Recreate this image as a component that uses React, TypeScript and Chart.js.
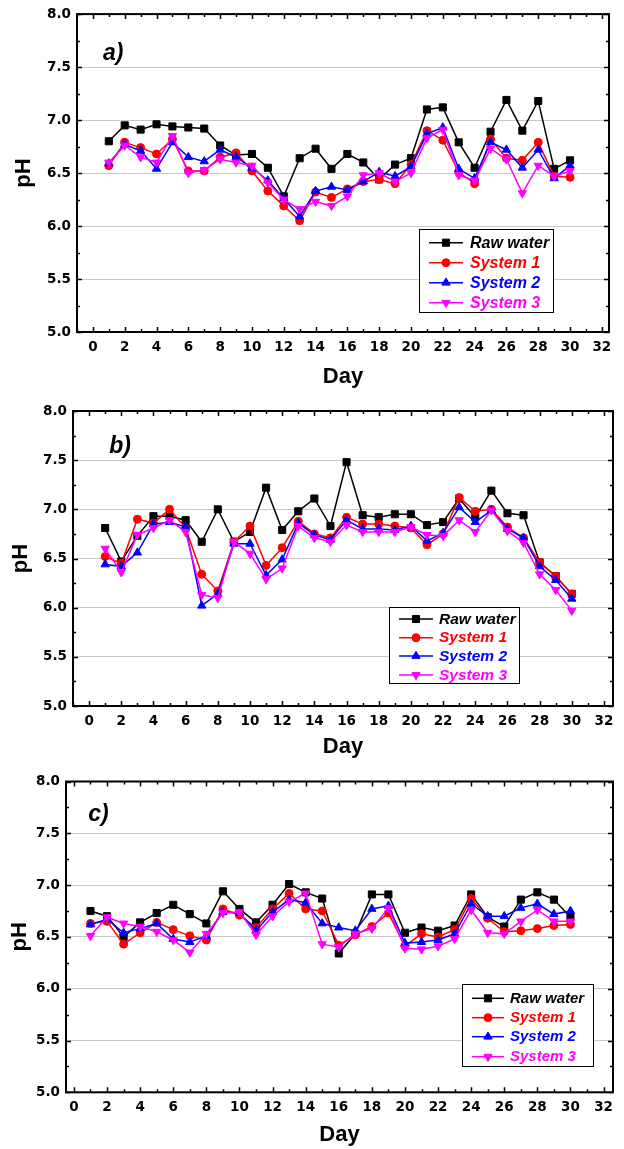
import React, { useEffect, useRef } from 'react';
import { Chart, registerables } from 'chart.js';

Chart.register(...registerables);

// ---------- data ----------
const days = [1, 2, 3, 4, 5, 6, 7, 8, 9, 10, 11, 12, 13, 14, 15, 16, 17, 18, 19, 20, 21, 22, 23, 24, 25, 26, 27, 28, 29, 30];
const seriesNames = ['Raw water', 'System 1', 'System 2', 'System 3'];
const yTickValues = [5.0, 5.5, 6.0, 6.5, 7.0, 7.5, 8.0];
const xTickValues = [0, 2, 4, 6, 8, 10, 12, 14, 16, 18, 20, 22, 24, 26, 28, 30, 32];
const panelLabels = ['a)', 'b)', 'c)'];

const rawA = [6.80, 6.95, 6.91, 6.96, 6.94, 6.93, 6.92, 6.76, 6.67, 6.68, 6.55, 6.28, 6.64, 6.73, 6.54, 6.68, 6.60, 6.44, 6.58, 6.64, 7.10, 7.12, 6.79, 6.55, 6.89, 7.19, 6.90, 7.18, 6.54, 6.62];
const sys1A = [6.57, 6.79, 6.74, 6.68, 6.82, 6.52, 6.52, 6.65, 6.69, 6.52, 6.33, 6.19, 6.05, 6.32, 6.27, 6.35, 6.42, 6.44, 6.40, 6.58, 6.90, 6.81, 6.51, 6.40, 6.82, 6.64, 6.62, 6.79, 6.47, 6.46];
const sys2A = [6.59, 6.77, 6.71, 6.54, 6.79, 6.65, 6.61, 6.72, 6.65, 6.55, 6.43, 6.26, 6.09, 6.33, 6.37, 6.34, 6.42, 6.51, 6.47, 6.56, 6.87, 6.93, 6.54, 6.45, 6.79, 6.72, 6.55, 6.72, 6.45, 6.57];
const sys3A = [6.60, 6.76, 6.65, 6.60, 6.85, 6.50, 6.53, 6.63, 6.60, 6.57, 6.41, 6.25, 6.16, 6.23, 6.19, 6.28, 6.48, 6.50, 6.42, 6.50, 6.83, 6.91, 6.48, 6.43, 6.73, 6.63, 6.31, 6.57, 6.47, 6.52];

const rawB = [6.81, 6.47, 6.73, 6.93, 6.93, 6.89, 6.67, 7.00, 6.67, 6.77, 7.22, 6.79, 6.98, 7.11, 6.83, 7.48, 6.94, 6.92, 6.95, 6.95, 6.84, 6.87, 7.11, 6.92, 7.19, 6.96, 6.94, 6.46, 6.32, 6.14];
const sys1B = [6.52, 6.45, 6.90, 6.86, 7.00, 6.81, 6.34, 6.17, 6.67, 6.83, 6.43, 6.61, 6.88, 6.75, 6.71, 6.92, 6.85, 6.85, 6.83, 6.81, 6.64, 6.75, 7.12, 6.98, 7.00, 6.82, 6.71, 6.46, 6.32, 6.14];
const sys2B = [6.44, 6.42, 6.56, 6.85, 6.87, 6.82, 6.02, 6.14, 6.65, 6.65, 6.33, 6.49, 6.86, 6.74, 6.69, 6.89, 6.80, 6.80, 6.79, 6.83, 6.68, 6.76, 7.02, 6.87, 6.99, 6.80, 6.71, 6.42, 6.28, 6.09];
const sys3B = [6.60, 6.36, 6.74, 6.81, 6.89, 6.77, 6.13, 6.10, 6.67, 6.55, 6.29, 6.40, 6.83, 6.71, 6.67, 6.84, 6.77, 6.77, 6.77, 6.82, 6.74, 6.73, 6.89, 6.77, 6.99, 6.78, 6.66, 6.34, 6.18, 5.97];

const rawC = [6.75, 6.70, 6.50, 6.64, 6.73, 6.81, 6.72, 6.63, 6.94, 6.77, 6.64, 6.81, 7.01, 6.93, 6.87, 6.34, 6.53, 6.91, 6.91, 6.54, 6.59, 6.56, 6.61, 6.91, 6.69, 6.60, 6.86, 6.93, 6.86, 6.69];
const sys1C = [6.63, 6.65, 6.43, 6.54, 6.64, 6.57, 6.51, 6.47, 6.77, 6.71, 6.59, 6.77, 6.92, 6.77, 6.75, 6.42, 6.52, 6.60, 6.73, 6.41, 6.53, 6.50, 6.57, 6.87, 6.68, 6.55, 6.56, 6.58, 6.61, 6.62];
const sys2C = [6.62, 6.67, 6.54, 6.58, 6.63, 6.48, 6.45, 6.51, 6.74, 6.73, 6.56, 6.74, 6.86, 6.83, 6.63, 6.59, 6.56, 6.77, 6.80, 6.44, 6.45, 6.47, 6.53, 6.82, 6.70, 6.70, 6.78, 6.82, 6.72, 6.75];
const sys3C = [6.51, 6.69, 6.63, 6.60, 6.55, 6.47, 6.35, 6.53, 6.73, 6.74, 6.52, 6.70, 6.84, 6.92, 6.43, 6.40, 6.53, 6.58, 6.78, 6.39, 6.38, 6.41, 6.48, 6.76, 6.54, 6.53, 6.65, 6.76, 6.65, 6.65];

// ---------- style ----------
const COLORS = ['#000000', '#ff0000', '#0000ff', '#ff00ff'];
const POINT_STYLES = ['rect', 'circle', 'triangle', 'triangle'];
const POINT_RADII = [5, 4, 4.8, 4.8];
const POINT_ROT = [0, 0, 0, 180];
const TICK_FONT = "'DejaVu Sans'";
const TITLE_FONT = "'Liberation Sans', Arial, sans-serif";

type Spec = {
  top: number; height: number;
  area: { l: number; t: number; r: number; b: number };
  xMin: number; xMax: number;
  yTitlePad: number; xTitlePad: number;
  legend: { x: number; y: number; w: number; h: number; rows: number[]; lx1: number; lx2: number; tx: number; size: number };
  label: { x: number; y: number };
  series: number[][];
  name: string;
};

const specs: Spec[] = [
  {
    top: 0, height: 395, area: { l: 77, t: 14, r: 609, b: 332 }, xMin: -1.0, xMax: 32.45,
    yTitlePad: 12.5, xTitlePad: 7,
    legend: { x: 419, y: 229, w: 134, h: 83, rows: [242.7, 262.7, 282.7, 302.7], lx1: 429, lx2: 463, tx: 470, size: 16 },
    label: { x: 103, y: 59.5 }, series: [rawA, sys1A, sys2A, sys3A], name: panelLabels[0],
  },
  {
    top: 395, height: 370, area: { l: 73, t: 16, r: 613, b: 311 }, xMin: -1.0, xMax: 32.56,
    yTitlePad: 10, xTitlePad: 6.7,
    legend: { x: 389, y: 212, w: 130, h: 76, rows: [224, 242.7, 261, 280], lx1: 399, lx2: 433, tx: 439, size: 15.5 },
    label: { x: 109.3, y: 58.3 }, series: [rawB, sys1B, sys2B, sys3B], name: panelLabels[1],
  },
  {
    top: 765, height: 384, area: { l: 66, t: 16.5, r: 613, b: 327.3 }, xMin: -0.48, xMax: 32.57,
    yTitlePad: 8.5, xTitlePad: 3.3,
    legend: { x: 462, y: 219, w: 131, h: 82, rows: [233.3, 252.7, 271.7, 291.7], lx1: 472, lx2: 504, tx: 510, size: 15 },
    label: { x: 88.3, y: 56 }, series: [rawC, sys1C, sys2C, sys3C], name: panelLabels[2],
  },
];

function drawMarker(ctx: CanvasRenderingContext2D, style: string, x: number, y: number, r: number, rotDeg: number) {
  ctx.beginPath();
  if (style === 'rect') {
    const s = Math.SQRT1_2 * r;
    ctx.rect(x - s, y - s, 2 * s, 2 * s);
  } else if (style === 'circle') {
    ctx.arc(x, y, r, 0, Math.PI * 2);
  } else {
    let rad = (rotDeg * Math.PI) / 180;
    ctx.moveTo(x + Math.sin(rad) * r, y - Math.cos(rad) * r);
    rad += (2 * Math.PI) / 3;
    ctx.lineTo(x + Math.sin(rad) * r, y - Math.cos(rad) * r);
    rad += (2 * Math.PI) / 3;
    ctx.lineTo(x + Math.sin(rad) * r, y - Math.cos(rad) * r);
    ctx.closePath();
  }
  ctx.fill();
  ctx.stroke();
}

function Panel({ spec }: { spec: Spec }) {
  const ref = useRef<HTMLCanvasElement>(null);
  useEffect(() => {
    const framePlugin = {
      id: 'frame',
      afterDraw(chart: any) {
        const ctx: CanvasRenderingContext2D = chart.ctx;
        const { left, top, right, bottom } = chart.chartArea;
        const xs = chart.scales.x;
        const ys = chart.scales.y;
        ctx.save();
        ctx.strokeStyle = '#000';
        ctx.lineWidth = 1.5;
        // x ticks (inside, bottom & top)
        for (let d = Math.ceil(spec.xMin); d <= Math.floor(spec.xMax); d++) {
          const px = Math.round(xs.getPixelForValue(d)) + 0.5;
          const len = d % 2 === 0 ? 5 : 3;
          ctx.beginPath();
          ctx.moveTo(px, bottom); ctx.lineTo(px, bottom - len);
          ctx.moveTo(px, top); ctx.lineTo(px, top + len);
          ctx.stroke();
        }
        // y ticks (inside, left & right)
        for (let k = 0; k <= 12; k++) {
          const v = 5 + k * 0.25;
          const py = Math.round(ys.getPixelForValue(v)) + 0.5;
          const len = k % 2 === 0 ? 5 : 3;
          ctx.beginPath();
          ctx.moveTo(left, py); ctx.lineTo(left + len, py);
          ctx.moveTo(right, py); ctx.lineTo(right - len, py);
          ctx.stroke();
        }
        // frame
        ctx.lineWidth = 2;
        ctx.strokeRect(left, top, right - left, bottom - top);

        // panel label
        ctx.fillStyle = '#000';
        ctx.font = `italic bold 23px ${TITLE_FONT}`;
        ctx.textAlign = 'left';
        ctx.textBaseline = 'alphabetic';
        ctx.fillText(spec.name, spec.label.x, spec.label.y);

        // legend
        const lg = spec.legend;
        ctx.fillStyle = '#fff';
        ctx.fillRect(lg.x, lg.y, lg.w, lg.h);
        ctx.strokeStyle = '#000';
        ctx.lineWidth = 1;
        ctx.strokeRect(lg.x + 0.5, lg.y + 0.5, lg.w, lg.h);
        chart.data.datasets.forEach((ds: any, i: number) => {
          const y = lg.rows[i];
          ctx.strokeStyle = ds.borderColor;
          ctx.lineWidth = 1.5;
          ctx.beginPath();
          ctx.moveTo(lg.lx1, y); ctx.lineTo(lg.lx2, y);
          ctx.stroke();
          ctx.fillStyle = ds.borderColor;
          ctx.lineWidth = 1;
          drawMarker(ctx, POINT_STYLES[i], (lg.lx1 + lg.lx2) / 2, y, POINT_RADII[i], POINT_ROT[i]);
          ctx.font = `italic bold ${lg.size}px ${TITLE_FONT}`;
          ctx.textBaseline = 'middle';
          ctx.fillText(ds.label, lg.tx, y + 0.5);
        });
        ctx.restore();
      },
    };

    const datasets = spec.series.map((vals, i) => ({
      label: seriesNames[i],
      data: days.map((d, j) => ({ x: d, y: vals[j] })),
      borderColor: COLORS[i],
      backgroundColor: COLORS[i],
      borderWidth: 1.5,
      pointStyle: POINT_STYLES[i] as any,
      pointRadius: POINT_RADII[i],
      pointRotation: POINT_ROT[i],
      pointBorderWidth: 1,
      pointBorderColor: COLORS[i],
      pointBackgroundColor: COLORS[i],
      tension: 0,
      order: 4 - i,
    }));

    const H = spec.height;
    const chart = new Chart(ref.current!, {
      type: 'line',
      data: { datasets },
      options: {
        responsive: false,
        animation: false,
        devicePixelRatio: 1,
        layout: { padding: { top: spec.area.t, right: 624 - spec.area.r, left: 0, bottom: 0 } },
        plugins: {
          legend: { display: false },
          tooltip: { enabled: false },
        },
        scales: {
          x: {
            type: 'linear',
            min: spec.xMin,
            max: spec.xMax,
            afterFit: (s: any) => { s.height = H - spec.area.b; },
            afterBuildTicks: (s: any) => { s.ticks = xTickValues.map((v) => ({ value: v })); },
            ticks: {
              stepSize: 2,
              includeBounds: false,
              autoSkip: false,
              maxRotation: 0,
              padding: 7,
              color: '#000',
              font: { family: TICK_FONT, size: 13.5, weight: 'bold' },
            },
            grid: { display: false, drawTicks: false },
            border: { display: false },
            title: {
              display: true,
              text: 'Day',
              color: '#000',
              font: { family: TITLE_FONT, size: 22, weight: 'bold', lineHeight: 1 },
              padding: { top: 0, bottom: spec.xTitlePad },
            },
          },
          y: {
            type: 'linear',
            min: 5,
            max: 8,
            afterFit: (s: any) => { s.width = spec.area.l; },
            afterBuildTicks: (s: any) => { s.ticks = yTickValues.map((v) => ({ value: v })); },
            ticks: {
              stepSize: 0.5,
              padding: 6,
              color: '#000',
              font: { family: TICK_FONT, size: 13.5, weight: 'bold' },
              callback: (v: any) => Number(v).toFixed(1),
            },
            grid: { color: '#c8c8c8', lineWidth: 1, drawTicks: false },
            border: { display: false },
            title: {
              display: true,
              text: 'pH',
              color: '#000',
              font: { family: TITLE_FONT, size: 22, weight: 'bold', lineHeight: 1 },
              padding: { top: spec.yTitlePad, bottom: 0 },
            },
          },
        },
      } as any,
      plugins: [framePlugin],
    });
    return () => chart.destroy();
  }, [spec]);

  return (
    <canvas
      ref={ref}
      width={624}
      height={spec.height}
      style={{ position: 'absolute', left: 0, top: spec.top, width: 624, height: spec.height }}
    />
  );
}

export default function App() {
  return (
    <div style={{ position: 'absolute', left: 0, top: 0, width: 624, height: 1149, background: '#fff' }}>
      {specs.map((s, i) => (
        <Panel key={i} spec={s} />
      ))}
    </div>
  );
}
